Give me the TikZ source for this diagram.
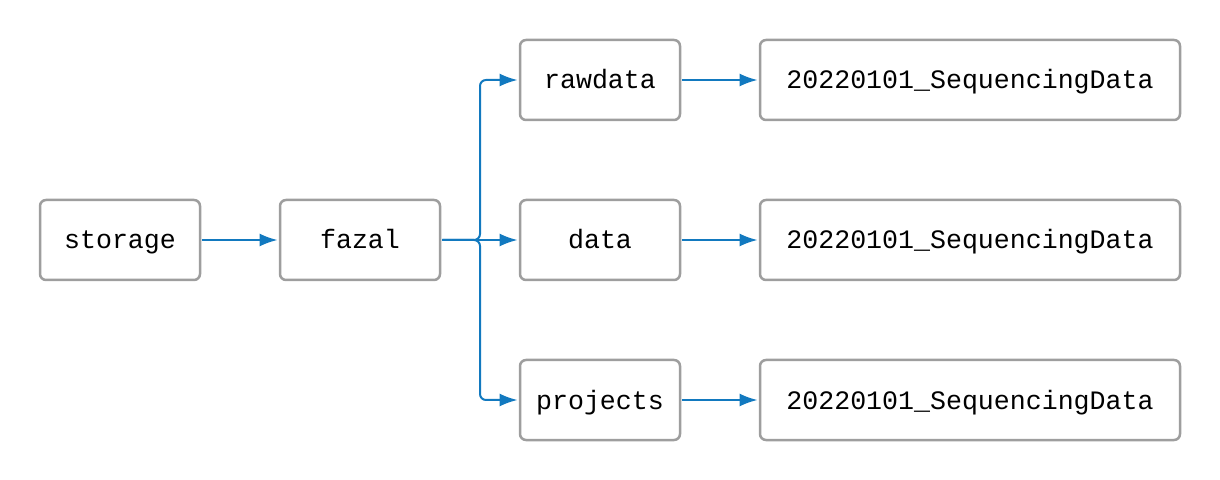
\documentclass[tikz,border=0pt]{standalone}
\usepackage{fontspec}
\setmonofont{Liberation Mono}
\usetikzlibrary{arrows.meta}
\definecolor{boxgray}{HTML}{9E9E9E}
\definecolor{linkblue}{HTML}{1279BF}
\tikzset{
	dirbox/.style={draw=boxgray, line width=1.25pt, rounded corners=3pt, fill=white,
		minimum height=40pt, minimum width=80pt, inner sep=0pt,
		text height=10.5pt, text depth=1.5pt,
		font=\ttfamily\fontsize{13.3pt}{16pt}\selectfont},
	widebox/.style={dirbox, minimum width=210pt},
	link/.style={draw=linkblue, line width=1pt, rounded corners=3pt,
		-{Latex[length=9pt,width=6.5pt]}, shorten >=0.6pt, shorten <=0.6pt}
}
\begin{document}
\begin{tikzpicture}[x=0.5pt, y=-0.5pt]
		\useasboundingbox (0,0) rectangle (1220,480);
		\node[dirbox] (storage) at (120,240) {storage};
		\node[dirbox] (fazal) at (360,240) {fazal};
		\node[dirbox] (rawdata) at (600,80) {rawdata};
		\node[dirbox] (data) at (600,240) {data};
		\node[dirbox] (projects) at (600,400) {projects};
		\node[widebox] (rawseq) at (970,80) {20220101\_SequencingData};
		\node[widebox] (dataseq) at (970,240) {20220101\_SequencingData};
		\node[widebox] (projseq) at (970,400) {20220101\_SequencingData};
		\coordinate (fork) at (480,240);
		\draw [link] (storage) -- (fazal);
		\draw [link] (fazal) -- (data);
		\draw [link] (fazal.east) -- (fork) |- (rawdata.west);
		\draw [link] (fazal.east) -- (fork) |- (projects.west);
		\draw [link] (rawdata) -- (rawseq);
		\draw [link] (data) -- (dataseq);
		\draw [link] (projects) -- (projseq);
\end{tikzpicture}
\end{document}
